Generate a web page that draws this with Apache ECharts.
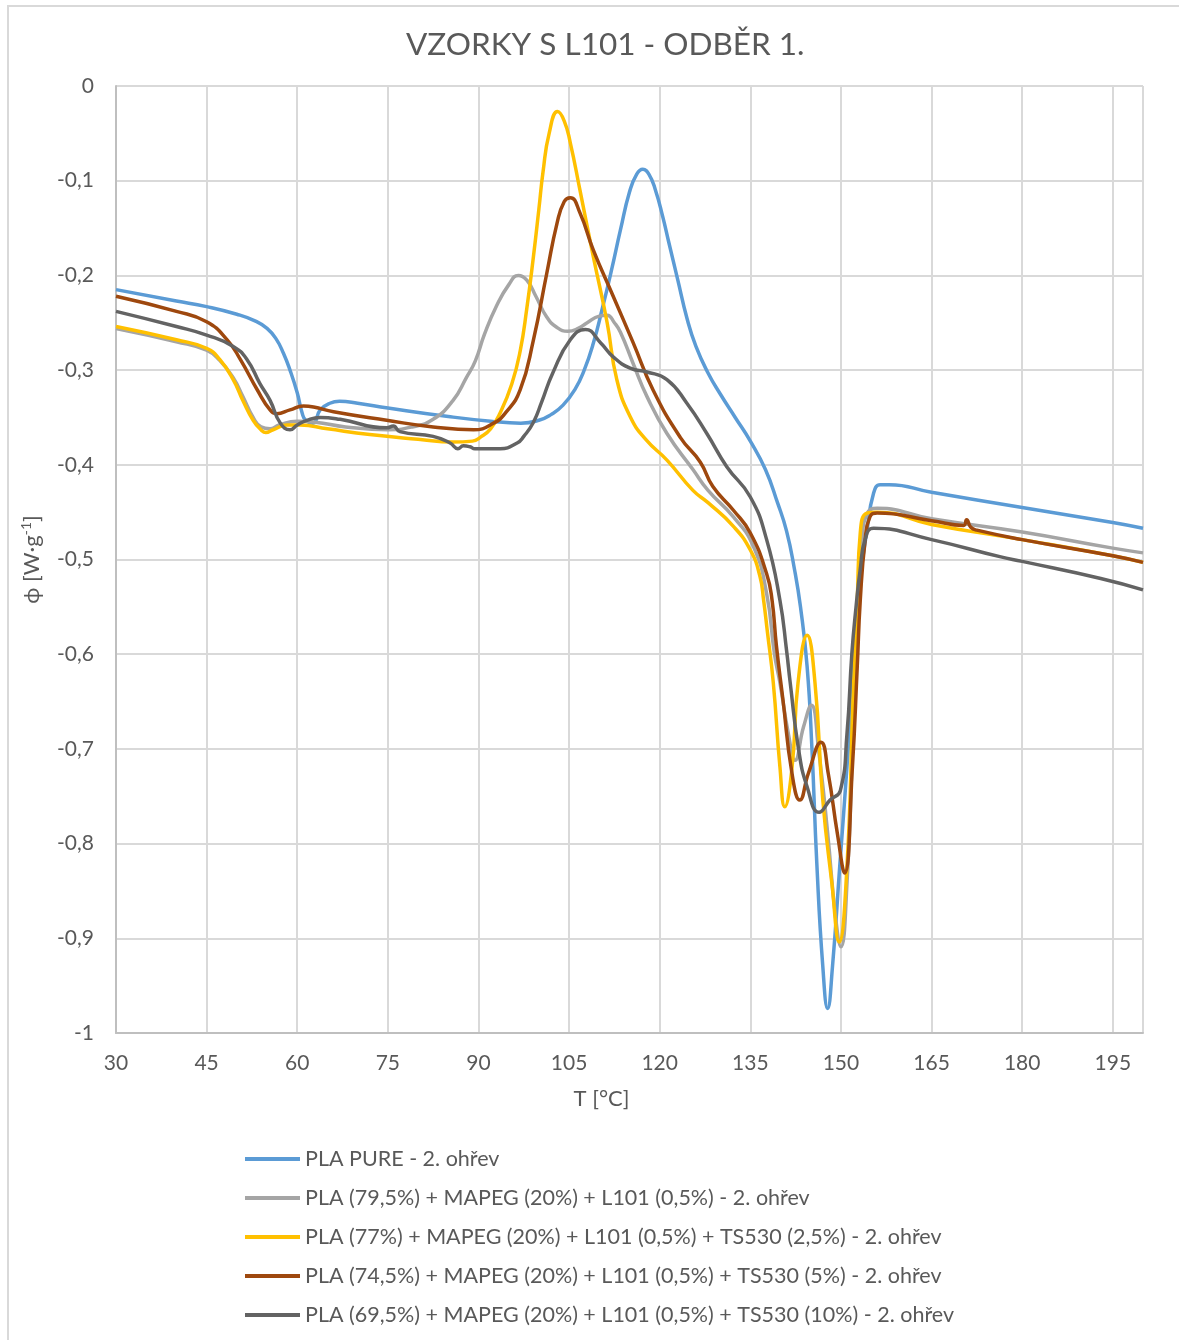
<!DOCTYPE html>
<html>
<head>
<meta charset="utf-8">
<script src="https://cdn.jsdelivr.net/npm/echarts@6/dist/echarts.min.js"></script>
<style>
html,body{margin:0;padding:0;background:#fff;}
#chart{width:1179px;height:1340px;}
</style>
</head>
<body>
<div id="chart"></div>
<script>
// ---- DATA ----
const chartTitle = 'VZORKY S L101 - ODBĚR 1.';
const seriesNames = [
  'PLA PURE - 2. ohřev',
  'PLA (79,5%) + MAPEG (20%) + L101 (0,5%) - 2. ohřev',
  'PLA (77%) + MAPEG (20%) + L101 (0,5%) + TS530 (2,5%) - 2. ohřev',
  'PLA (74,5%) + MAPEG (20%) + L101 (0,5%) + TS530 (5%) - 2. ohřev',
  'PLA (69,5%) + MAPEG (20%) + L101 (0,5%) + TS530 (10%) - 2. ohřev'
];
const seriesColors = ['#5B9BD5', '#A5A5A5', '#FFC000', '#9E480E', '#636363'];

const tPure   = [30,40,45,50,53,55,56.5,57.7,58.8,60,60.8,61.4,62.6,63.8,65.4,67,70,75,85,92,97,100,102,104,106,107.5,109,110.5,112,113.5,115,116.2,117.2,118.2,119.3,120.5,121.5,123,124.5,126,128,130,132.5,135,137.5,139.5,141,142.3,143.3,144.4,145.2,146,147,147.8,148.6,149.8,151,152.3,153.2,154.3,155.4,156.5,158,165,180,195,200];
const phiPure = [-0.215,-0.227,-0.233,-0.241,-0.248,-0.256,-0.267,-0.282,-0.300,-0.324,-0.345,-0.353,-0.356,-0.342,-0.335,-0.333,-0.335,-0.340,-0.349,-0.354,-0.356,-0.353,-0.347,-0.337,-0.320,-0.300,-0.272,-0.235,-0.195,-0.152,-0.112,-0.093,-0.088,-0.093,-0.110,-0.138,-0.165,-0.205,-0.245,-0.275,-0.303,-0.325,-0.350,-0.375,-0.405,-0.440,-0.470,-0.510,-0.550,-0.613,-0.700,-0.820,-0.930,-0.974,-0.930,-0.824,-0.719,-0.596,-0.520,-0.470,-0.430,-0.421,-0.421,-0.429,-0.445,-0.461,-0.467];

const tS1   = [30,40,45,47.2,49.4,51,52.7,54,55.5,57,60,63,68,75,79,82.5,85.8,88,89.5,91,93,95,96.6,98,99.5,101.3,103,104.8,106.5,108,110,111.3,112.5,113.5,115.6,117.9,121.2,125.5,128,132.2,135.5,137.7,139,139.9,141.3,142.4,143.8,145.1,146.3,147.8,149.1,150,151,152,152.8,153.5,154.3,156,165,180,195,200];
const phiS1 = [-0.256,-0.270,-0.279,-0.290,-0.308,-0.328,-0.350,-0.360,-0.362,-0.358,-0.354,-0.355,-0.360,-0.363,-0.360,-0.352,-0.332,-0.308,-0.290,-0.262,-0.232,-0.210,-0.200,-0.205,-0.222,-0.244,-0.255,-0.259,-0.256,-0.250,-0.243,-0.242,-0.250,-0.260,-0.293,-0.328,-0.367,-0.405,-0.427,-0.455,-0.486,-0.536,-0.600,-0.630,-0.684,-0.712,-0.677,-0.654,-0.701,-0.789,-0.877,-0.909,-0.842,-0.684,-0.560,-0.480,-0.452,-0.446,-0.457,-0.471,-0.488,-0.493];

const tS2   = [30,40,45,47.2,49.4,51,52.7,54,54.8,56,58.3,60.5,65,72,80,85.8,89,90.3,92,93.6,95.5,96.9,98,99.1,100,100.7,101.7,103.1,104.2,105.2,106.8,109,111.3,112.9,115.1,117.8,121.2,125.5,128,132.2,135,136.6,137.2,137.8,138.8,139.9,140.7,141.9,142.9,144.4,145.7,147,148.5,149.7,151,152,152.7,153.2,154.3,156,165,180,195,200];
const phiS2 = [-0.254,-0.268,-0.277,-0.289,-0.310,-0.332,-0.353,-0.363,-0.366,-0.363,-0.358,-0.358,-0.362,-0.368,-0.373,-0.376,-0.375,-0.371,-0.362,-0.345,-0.315,-0.280,-0.235,-0.180,-0.130,-0.090,-0.050,-0.027,-0.037,-0.060,-0.110,-0.180,-0.250,-0.310,-0.349,-0.374,-0.395,-0.427,-0.440,-0.465,-0.490,-0.518,-0.543,-0.575,-0.630,-0.719,-0.761,-0.720,-0.630,-0.580,-0.630,-0.754,-0.842,-0.904,-0.824,-0.648,-0.543,-0.472,-0.451,-0.450,-0.463,-0.479,-0.496,-0.503];

const tS3   = [30,40,45,48.4,50.6,53.4,55.5,56.6,58.8,61,62.7,66,74.8,82.5,89.2,92.5,94.5,96.9,99.1,101.3,103,104.2,105.2,106.8,109,112.3,115.6,118.9,123.4,126.7,128.8,132.2,135,137.7,138.6,139.3,140.4,141.9,143.2,144.6,146.7,147.9,149.4,150.6,151.9,152.7,153.2,154,154.8,156,165,170.3,170.8,171.5,172.5,180,195,200];
const phiS3 = [-0.222,-0.238,-0.249,-0.268,-0.289,-0.321,-0.342,-0.346,-0.342,-0.338,-0.339,-0.344,-0.353,-0.360,-0.363,-0.356,-0.345,-0.321,-0.268,-0.198,-0.145,-0.122,-0.118,-0.134,-0.173,-0.222,-0.271,-0.321,-0.371,-0.397,-0.423,-0.448,-0.472,-0.515,-0.543,-0.590,-0.648,-0.726,-0.754,-0.726,-0.693,-0.726,-0.789,-0.831,-0.719,-0.613,-0.543,-0.480,-0.455,-0.451,-0.459,-0.464,-0.458,-0.466,-0.469,-0.479,-0.496,-0.503];

const tS4   = [30,40,45,49.4,51.7,53.8,55.5,57.2,58.8,60,61.6,63.8,67.1,74.8,75.9,77,82.5,85.3,86.6,87.5,88.6,89.4,93.6,96.4,97.5,99.1,100.5,102.3,105.2,107.7,110.2,112.3,115.1,117.9,121.2,124.5,127.8,131.1,135,137.7,139.9,141,141.6,143,144.4,146.4,148.2,149.9,151,151.8,152.5,153.2,154,155.4,165,176.3,180,193,200];
const phiS4 = [-0.238,-0.254,-0.263,-0.275,-0.289,-0.314,-0.332,-0.356,-0.363,-0.358,-0.353,-0.350,-0.352,-0.361,-0.359,-0.365,-0.370,-0.377,-0.383,-0.380,-0.381,-0.383,-0.383,-0.377,-0.370,-0.355,-0.333,-0.303,-0.268,-0.257,-0.271,-0.286,-0.298,-0.302,-0.310,-0.335,-0.367,-0.402,-0.434,-0.479,-0.543,-0.596,-0.630,-0.701,-0.740,-0.767,-0.754,-0.744,-0.684,-0.600,-0.550,-0.510,-0.479,-0.467,-0.479,-0.497,-0.502,-0.520,-0.532];

const xTicks = {min: 30, max: 200, interval: 15};
const yTicks = {min: -1, max: 0, interval: 0.1};

// ---- BUILD ----
const allT = [tPure, tS1, tS2, tS3, tS4];
const allPhi = [phiPure, phiS1, phiS2, phiS3, phiS4];
const zip = (a, b) => a.map((t, i) => [t, b[i]]);

const FONT = 'Lato';
const TXT = '#595959';

const series = seriesNames.map((name, i) => ({
  name: name,
  type: 'line',
  data: zip(allT[i], allPhi[i]),
  showSymbol: false,
  symbol: 'none',
  smooth: 0.5,
  lineStyle: {color: seriesColors[i], width: 3.5},
  itemStyle: {color: seriesColors[i]},
  z: 10 + i,
  animation: false
}));

const fmt = v => String(Math.round(v * 10) / 10).replace('.', ',');

const chart = echarts.init(document.getElementById('chart'), null, {renderer: 'canvas'});
chart.setOption({
  animation: false,
  backgroundColor: '#ffffff',
  graphic: [{
    type: 'rect',
    shape: {x: 8, y: 6, width: 1200, height: 1400},
    style: {fill: 'none', stroke: '#d9d9d9', lineWidth: 2},
    silent: true, z: -10
  }],
  title: {
    text: chartTitle,
    left: 401,
    top: 24,
    textStyle: {fontFamily: FONT, fontSize: 31.5, fontWeight: 'normal', color: TXT}
  },
  grid: {left: 116, right: 36, top: 86, bottom: 307, containLabel: false},
  legend: {
    orient: 'vertical',
    left: 240,
    top: 1143,
    itemWidth: 55,
    itemHeight: 4,
    itemGap: 17,
    icon: 'rect',
    textStyle: {fontFamily: FONT, fontSize: 21.5, color: TXT, lineHeight: 22},
    data: seriesNames
  },
  xAxis: {
    type: 'value',
    min: xTicks.min, max: xTicks.max, interval: xTicks.interval,
    name: 'T [°C]',
    nameLocation: 'middle',
    nameGap: 55,
    nameTextStyle: {fontFamily: FONT, fontSize: 22, color: TXT, padding: [0, 56, 0, 0]},
    axisLine: {show: true, onZero: false, lineStyle: {color: '#bfbfbf', width: 2}},
    axisTick: {show: false},
    axisLabel: {fontFamily: FONT, fontSize: 21, color: TXT, margin: 20, showMaxLabel: false, formatter: v => (v >= 200 ? '' : fmt(v))},
    splitLine: {show: true, lineStyle: {color: '#d9d9d9', width: 2}}
  },
  yAxis: {
    type: 'value',
    min: yTicks.min, max: yTicks.max, interval: yTicks.interval,
    name: '{a|ϕ [W·g}{b|-1}{a|]}',
    nameLocation: 'middle',
    nameGap: 72,
    nameRotate: 90,
    nameTextStyle: {
      fontFamily: FONT, fontSize: 22, color: TXT,
      rich: {
        a: {fontFamily: FONT, fontSize: 22, color: TXT, lineHeight: 25},
        b: {fontFamily: FONT, fontSize: 14, color: TXT, lineHeight: 14, verticalAlign: 'top'}
      }
    },
    axisLine: {show: true, onZero: false, lineStyle: {color: '#bfbfbf', width: 2}},
    axisTick: {show: false},
    axisLabel: {fontFamily: FONT, fontSize: 21, color: TXT, margin: 22, formatter: fmt},
    splitLine: {show: true, lineStyle: {color: '#d9d9d9', width: 2}}
  },
  series: series
});
</script>
</body>
</html>
